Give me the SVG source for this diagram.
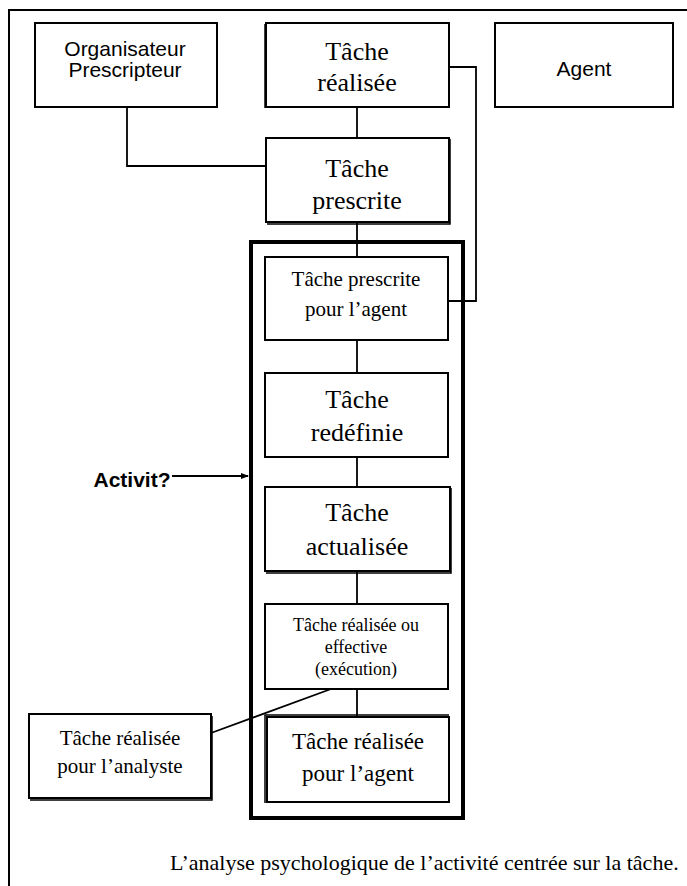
<svg xmlns="http://www.w3.org/2000/svg" width="687" height="886" viewBox="0 0 687 886">
<defs>
<style>
.box{fill:#fff;stroke:#000;stroke-width:2}
.sh{fill:none;stroke:#000;stroke-width:1.5}
.ln{fill:none;stroke:#000;stroke-width:1.8}
.tr{font-family:"Liberation Serif","Times New Roman",serif;fill:#000;text-anchor:middle}
.ar{font-family:"Liberation Sans",Arial,sans-serif;fill:#000;text-anchor:middle}
</style>
<marker id="ah" markerWidth="8" markerHeight="8" refX="7" refY="4" orient="auto" markerUnits="userSpaceOnUse">
<path d="M0,1 L8,4 L0,7 Z" fill="#000"/>
</marker>
</defs>
<rect width="687" height="886" fill="#fff"/>
<path d="M9,886 V10 H687" fill="none" stroke="#000" stroke-width="2"/>

<g id="connectors">
<path class="ln" d="M357,107 V138"/>
<path class="ln" d="M127,107 V166 H266"/>
<path class="ln" d="M449,67 H476 V301 H448"/>
<path class="ln" d="M357,222 V257"/>
<path class="ln" d="M357,340 V373"/>
<path class="ln" d="M357,457 V487"/>
<path class="ln" d="M357,571 V604"/>
<path class="ln" d="M357,689 V717"/>
<path class="ln" d="M331,689 L211,733"/>
<path class="ln" d="M172,476 H248" stroke-width="1.5" marker-end="url(#ah)"/>
</g>

<g id="activite">
<rect x="251" y="242" width="212" height="576" fill="none" stroke="#000" stroke-width="4"/>
<text x="132" y="487" font-family="Liberation Sans, Arial, sans-serif" font-weight="bold" font-size="21" text-anchor="middle">Activit?</text>
</g>

<g id="organisateur">
<rect class="box" x="35" y="23" width="182" height="84"/>
<text class="ar" font-size="21" x="125" y="56">Organisateur</text>
<text class="ar" font-size="21" x="125" y="77">Prescripteur</text>
</g>

<g id="tache-realisee">
<path class="sh" d="M265,24 V108"/>
<rect class="box" x="266" y="23" width="183" height="84"/>
<text class="tr" font-size="26" x="357" y="60">Tâche</text>
<text class="tr" font-size="26" x="357" y="91">réalisée</text>
</g>

<g id="agent">
<rect class="box" x="495" y="23" width="178" height="84"/>
<text class="ar" font-size="21" x="584" y="76">Agent</text>
</g>

<g id="tache-prescrite">
<path class="sh" d="M267,224 H450 V139"/>
<rect class="box" x="266" y="138" width="183" height="84"/>
<text class="tr" font-size="26" x="357" y="177">Tâche</text>
<text class="tr" font-size="26" x="357" y="209">prescrite</text>
</g>

<g id="tache-prescrite-agent">
<rect class="box" x="265" y="257" width="183" height="83"/>
<text class="tr" font-size="21" x="356" y="286">Tâche prescrite</text>
<text class="tr" font-size="21" x="356" y="316">pour l’agent</text>
</g>

<g id="tache-redefinie">
<rect class="box" x="265" y="373" width="183" height="84"/>
<text class="tr" font-size="26" x="357" y="408">Tâche</text>
<text class="tr" font-size="26" x="357" y="441">redéfinie</text>
</g>

<g id="tache-actualisee">
<path class="sh" d="M266,573 H451 V488"/>
<rect class="box" x="265" y="487" width="185" height="84"/>
<text class="tr" font-size="26" x="357" y="521">Tâche</text>
<text class="tr" font-size="26" x="357" y="555">actualisée</text>
</g>

<g id="tache-effective">
<rect class="box" x="265" y="604" width="183" height="85"/>
<text class="tr" font-size="18" x="356" y="631">Tâche réalisée ou</text>
<text class="tr" font-size="18" x="356" y="653">effective</text>
<text class="tr" font-size="18" x="356" y="675">(exécution)</text>
</g>

<g id="tache-realisee-agent">
<path class="sh" d="M265,803 V715 H449"/>
<rect class="box" x="267" y="717" width="182" height="85"/>
<text class="tr" font-size="23" x="358" y="749">Tâche réalisée</text>
<text class="tr" font-size="23" x="358" y="781">pour l’agent</text>
</g>

<g id="tache-realisee-analyste">
<path class="sh" d="M30,800 H212 V716"/>
<rect class="box" x="29" y="714" width="182" height="84"/>
<text class="tr" font-size="21" x="120" y="745">Tâche réalisée</text>
<text class="tr" font-size="21" x="120" y="773">pour l’analyste</text>
</g>

<g id="caption">
<text font-family="Liberation Serif, Times New Roman, serif" font-size="22" x="170" y="870">L’analyse psychologique de l’activité centrée sur la tâche.</text>
</g>
</svg>
